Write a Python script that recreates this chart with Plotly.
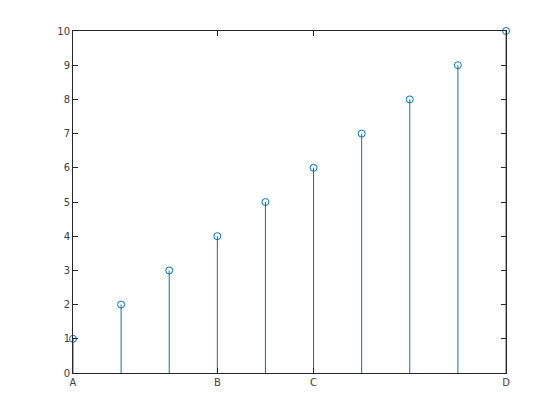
import plotly.graph_objects as go

x_vals = [1, 2, 3, 4, 5, 6, 7, 8, 9, 10]
y_vals = [1, 2, 3, 4, 5, 6, 7, 8, 9, 10]
x_tick_vals = [1, 4, 6, 10]
x_tick_text = ["A", "B", "C", "D"]
y_tick_vals = [0, 1, 2, 3, 4, 5, 6, 7, 8, 9, 10]

blue = "#0072BD"
axc = "#262626"
labc = "#404040"

sx, sy = [], []
for xv, yv in zip(x_vals, y_vals):
    sx += [xv, xv, None]
    sy += [0, yv, None]

fig = go.Figure()
fig.add_trace(go.Scatter(x=sx, y=sy, mode="lines", line=dict(color=blue, width=1),
                         hoverinfo="skip", showlegend=False, cliponaxis=False))
fig.add_trace(go.Scatter(x=x_vals, y=y_vals, mode="markers",
                         marker=dict(symbol="circle-open", size=7, color=blue,
                                     line=dict(color=blue, width=1)),
                         showlegend=False, cliponaxis=False))

fig.update_layout(
    width=560, height=420,
    margin=dict(l=65, r=62, t=23, b=55, autoexpand=False),
    paper_bgcolor="white", plot_bgcolor="white",
    font=dict(family="DejaVu Sans", size=10, color=labc),
    xaxis=dict(range=[1, 10], tickvals=x_tick_vals, ticktext=x_tick_text,
               showgrid=False, zeroline=False, showline=True, linecolor=axc,
               linewidth=1, mirror="ticks", ticks="inside", ticklen=5,
               tickcolor=axc, tickfont=dict(color=labc)),
    yaxis=dict(range=[0, 10], tickvals=y_tick_vals,
               showgrid=False, zeroline=False, showline=True, linecolor=axc,
               linewidth=1, mirror="ticks", ticks="inside", ticklen=5,
               tickcolor=axc, tickfont=dict(color=labc)),
)

fig.write_html("out.html")
